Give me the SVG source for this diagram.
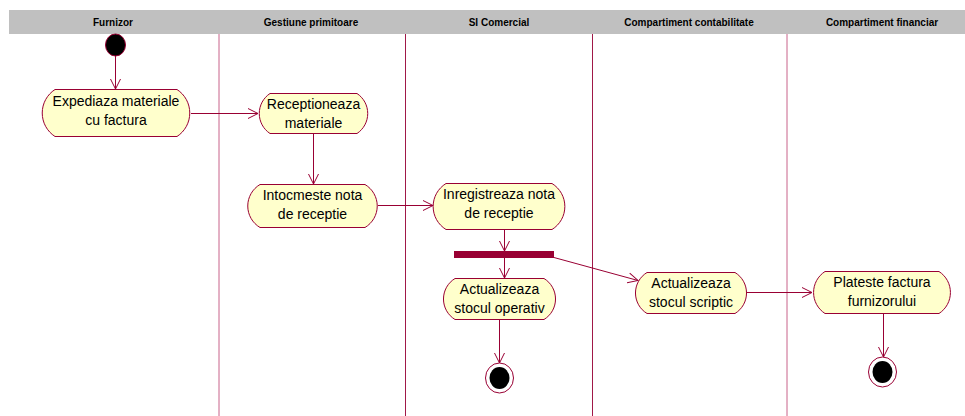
<svg xmlns="http://www.w3.org/2000/svg" width="965" height="416" viewBox="0 0 965 416">
<defs>
<style>
.hdr{font-family:"Liberation Sans",Arial,sans-serif;font-size:10px;font-weight:bold;fill:#000;text-anchor:middle}
.lbl{font-family:"Liberation Sans",Arial,sans-serif;font-size:14px;fill:#000;text-anchor:middle}
.act{fill:#ffffcc;stroke:#990033;stroke-width:1}
.lane{stroke-width:1;fill:none}
.con{stroke:#990033;stroke-width:1;fill:none;marker-end:url(#arr)}
.ring{fill:#fff;stroke:#990033;stroke-width:1}
</style>
<marker id="arr" markerWidth="12" markerHeight="12" refX="11" refY="6" orient="auto" markerUnits="userSpaceOnUse">
<path d="M1,1 L11,6 L1,11" fill="none" stroke="#990033" stroke-width="1"/>
</marker>
</defs>
<rect width="965" height="416" fill="#fff"/>
<g id="lanes">
<rect x="9" y="10" width="956" height="24" fill="#c0c0c0"/>
<text class="hdr" x="113" y="26">Furnizor</text>
<text class="hdr" x="311" y="26">Gestiune primitoare</text>
<text class="hdr" x="499" y="26">SI Comercial</text>
<text class="hdr" x="689" y="26">Compartiment contabilitate</text>
<text class="hdr" x="882" y="26">Compartiment financiar</text>
<line class="lane" x1="219" y1="34" x2="219" y2="416" stroke="#c8628a"/>
<line class="lane" x1="405.5" y1="34" x2="405.5" y2="416" stroke="#a01848"/>
<line class="lane" x1="592.5" y1="34" x2="592.5" y2="416" stroke="#a01848"/>
<line class="lane" x1="787" y1="34" x2="787" y2="416" stroke="#c8628a"/>
</g>
<g id="connectors">
<line class="con" x1="115.5" y1="56" x2="115.5" y2="89"/>
<line class="con" x1="191" y1="113.5" x2="258" y2="113.5"/>
<line class="con" x1="313.5" y1="133" x2="313.5" y2="184"/>
<line class="con" x1="378" y1="205.5" x2="433" y2="205.5"/>
<line class="con" x1="504.5" y1="229" x2="504.5" y2="251"/>
<line class="con" x1="504.5" y1="258" x2="504.5" y2="278"/>
<line class="con" x1="554" y1="257.5" x2="638" y2="280.5"/>
<line class="con" x1="747" y1="292.5" x2="812" y2="292.5"/>
<line class="con" x1="499.5" y1="319" x2="499.5" y2="363"/>
<line class="con" x1="883.5" y1="313" x2="883.5" y2="357"/>
</g>
<g id="start">
<ellipse cx="115.5" cy="45" rx="10" ry="11" fill="#000" stroke="#990033" stroke-width="1"/>
</g>
<g id="n1">
<path class="act" d="M55,89.5 H177 A28 28 0 0 1 177,136.5 H55 A28 28 0 0 1 55,89.5 Z"/>
<text class="lbl" x="116" y="106">Expediaza materiale</text>
<text class="lbl" x="116" y="125">cu factura</text>
</g>
<g id="n2">
<path class="act" d="M270,93.5 H357 A24 24 0 0 1 357,133.5 H270 A24 24 0 0 1 270,93.5 Z"/>
<text class="lbl" x="313.5" y="109">Receptioneaza</text>
<text class="lbl" x="313.5" y="128">materiale</text>
</g>
<g id="n3">
<path class="act" d="M260,184.5 H365 A25 25 0 0 1 365,227.5 H260 A25 25 0 0 1 260,184.5 Z"/>
<text class="lbl" x="312.5" y="200">Intocmeste nota</text>
<text class="lbl" x="312.5" y="219">de receptie</text>
</g>
<g id="n4">
<path class="act" d="M446,183.5 H552 A27 27 0 0 1 552,229.5 H446 A27 27 0 0 1 446,183.5 Z"/>
<text class="lbl" x="499" y="199">Inregistreaza nota</text>
<text class="lbl" x="499" y="218">de receptie</text>
</g>
<g id="fork">
<rect x="454" y="251" width="100" height="7" fill="#990033"/>
</g>
<g id="n5">
<path class="act" d="M455,278.5 H544 A24 24 0 0 1 544,319.5 H455 A24 24 0 0 1 455,278.5 Z"/>
<text class="lbl" x="499.5" y="294">Actualizeaza</text>
<text class="lbl" x="499.5" y="313">stocul operativ</text>
</g>
<g id="n6">
<path class="act" d="M647,272.5 H735 A24 24 0 0 1 735,313.5 H647 A24 24 0 0 1 647,272.5 Z"/>
<text class="lbl" x="691" y="288">Actualizeaza</text>
<text class="lbl" x="691" y="307">stocul scriptic</text>
</g>
<g id="n7">
<path class="act" d="M825,271.5 H939 A25 25 0 0 1 939,313.5 H825 A25 25 0 0 1 825,271.5 Z"/>
<text class="lbl" x="882" y="287">Plateste factura</text>
<text class="lbl" x="882" y="306">furnizorului</text>
</g>
<g id="end1">
<ellipse class="ring" cx="499.5" cy="378" rx="14" ry="15"/>
<ellipse cx="499.5" cy="378" rx="10" ry="11" fill="#000"/>
</g>
<g id="end2">
<ellipse class="ring" cx="882.5" cy="372" rx="14" ry="15"/>
<ellipse cx="882.5" cy="372" rx="10" ry="11" fill="#000"/>
</g>
</svg>
